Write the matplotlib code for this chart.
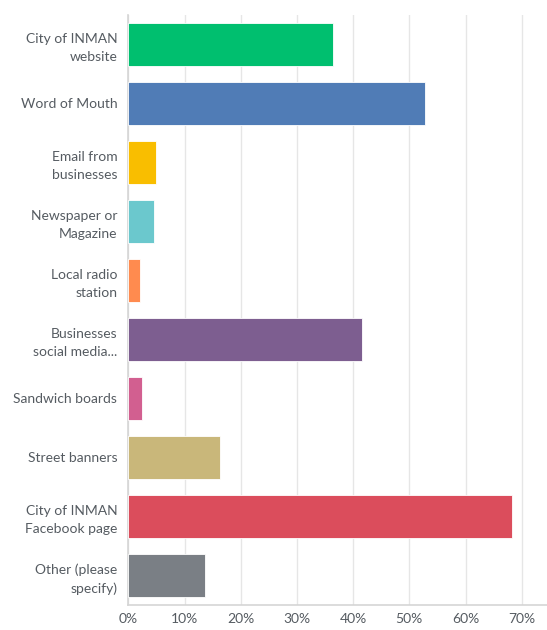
import matplotlib.pyplot as plt
from matplotlib.ticker import FuncFormatter

categories = [
    "City of INMAN\nwebsite",
    "Word of Mouth",
    "Email from\nbusinesses",
    "Newspaper or\nMagazine",
    "Local radio\nstation",
    "Businesses\nsocial media...",
    "Sandwich boards",
    "Street banners",
    "City of INMAN\nFacebook page",
    "Other (please\nspecify)",
]
percentages = [36.4, 52.8, 4.9, 4.5, 2.0, 41.5, 2.4, 16.3, 68.2, 13.7]
colors = ["#00BF6F", "#507CB6", "#F9BE00", "#6BC8CD", "#FF8B4F",
          "#7D5E90", "#D25F90", "#C9B77A", "#DB4D5C", "#7A7F85"]
xticks = [0, 10, 20, 30, 40, 50, 60, 70]

plt.rcParams['font.family'] = ['Lato', 'DejaVu Sans']
text_color = "#555B61"

fig = plt.figure(figsize=(5.47, 6.30), dpi=100)
ax = fig.add_axes([0.2346, 0.040, 0.7654, 0.9367])

ax.barh(range(len(categories)), percentages, height=0.73, color=colors,
        edgecolor="white", linewidth=0.6, zorder=3)

ax.set_ylim(len(categories) - 0.5, -0.5)
ax.set_xlim(0, 74.5)
ax.set_xticks(xticks)
ax.xaxis.set_major_formatter(FuncFormatter(lambda v, p: f"{int(v)}%"))
ax.set_yticks(range(len(categories)))
ax.set_yticklabels(categories, multialignment="right", linespacing=1.55)

ax.grid(axis="x", color="#E6E6E6", linewidth=1, zorder=0)
for s in ["top", "right"]:
    ax.spines[s].set_visible(False)
for s in ["left", "bottom"]:
    ax.spines[s].set_color("#D5D5D5")
    ax.spines[s].set_linewidth(1.2)

ax.tick_params(axis="both", length=0, colors=text_color, labelsize=10)
ax.tick_params(axis="x", pad=6)
ax.tick_params(axis="y", pad=8)

fig.savefig("out.png", dpi=100)
